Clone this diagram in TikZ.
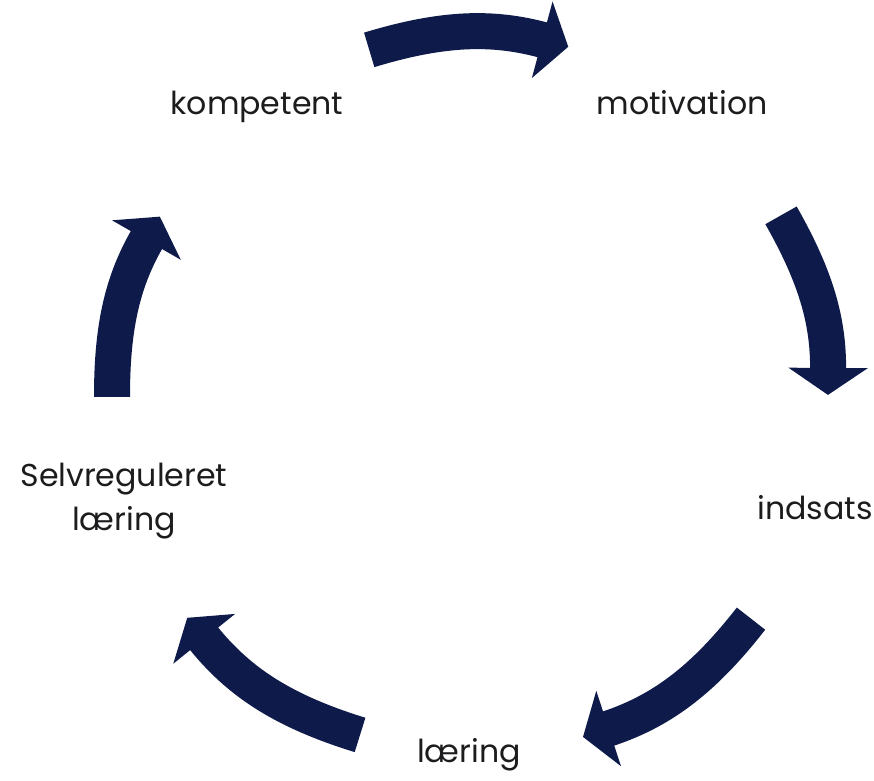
\documentclass[tikz,border=0pt]{standalone}
\usepackage{fontspec}
\setmainfont{Poppins}
\usepackage{tikz}
\usetikzlibrary{arrows.meta}
\definecolor{arrowblue}{RGB}{14,27,74}
\definecolor{textgray}{RGB}{28,28,30}

\begin{document}
\begin{tikzpicture}[x=0.02cm, y=0.02cm,
    cyclearrow/.style={arrowblue, line width=0.72cm, -{Triangle[width=1.56cm, length=0.54cm]}},
    word/.style={anchor=base, text=textgray, font=\fontsize{18}{25}\selectfont, align=center, inner sep=0pt}]
    % fast ramme
    \useasboundingbox (-465,-380) rectangle (409,400);

    % ordene rundt i cirklen
    \node[word] (kompetent) at (-208,285) {kompetent};
    \node[word] (motivation) at (217,285) {motivation};
    \node[word] (indsats) at (350,-119) {indsats};
    \node[word] (laering) at (4,-362) {læring};
    \node[word] (selvreg) at (-341,-130) {Selvreguleret\\læring};

    % endepunkter for pilene
    \coordinate (top-s) at (105.3:363);
    \coordinate (top-e) at (73.7:368);
    \coordinate (right-s) at (30.3:366);
    \coordinate (right-e) at (0.8:363);
    \coordinate (br-s) at (-37.4:360);
    \coordinate (br-e) at (-70.7:357);
    \coordinate (bl-s) at (-107.4:351);
    \coordinate (bl-e) at (-141.9:353);
    \coordinate (left-s) at (179.5:353);
    \coordinate (left-e) at (149:356);

    % pilene
    \draw[cyclearrow] (top-s) to[bend left=16] (top-e);
    \draw[cyclearrow] (right-s) to[bend left=15] (right-e);
    \draw[cyclearrow] (br-s) to[bend left=17] (br-e);
    \draw[cyclearrow] (bl-s) to[bend left=17] (bl-e);
    \draw[cyclearrow] (left-s) to[bend left=15] (left-e);
\end{tikzpicture}
\end{document}
